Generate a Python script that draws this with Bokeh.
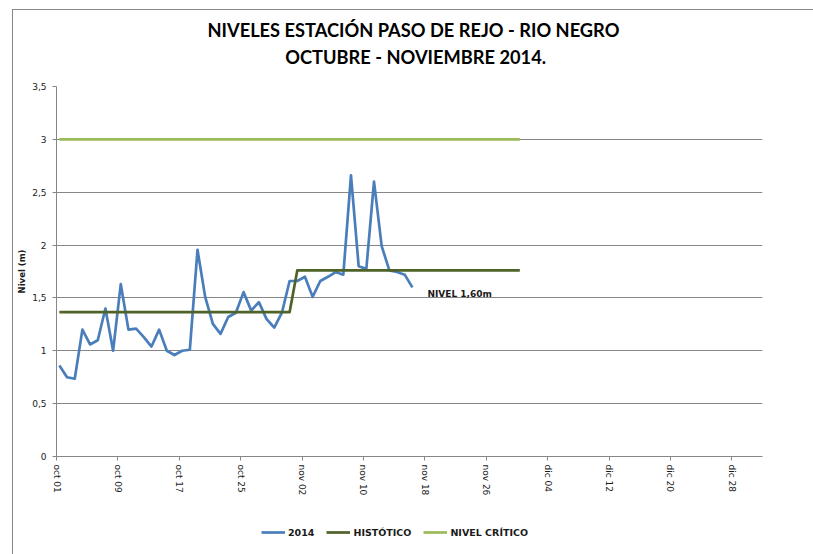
import datetime as dt
from bokeh.plotting import figure
from bokeh.layouts import column
from bokeh.models import (Range1d, FixedTicker, Label, Legend, LegendItem,
                          ColumnDataSource)
from bokeh.core.properties import value
from bokeh.embed import file_html
from bokeh.resources import INLINE

# ---------------- data ----------------
inicio = dt.datetime(2014, 10, 1, 9)  # daily readings
nivel_2014 = [0.86, 0.75, 0.735, 1.20, 1.06, 1.10, 1.40, 1.00, 1.63, 1.20,
              1.21, 1.13, 1.04, 1.20, 1.00, 0.96, 1.00, 1.01, 1.955, 1.51,
              1.255, 1.16, 1.32, 1.36, 1.555, 1.38, 1.46, 1.30, 1.22, 1.36,
              1.66, 1.66, 1.70, 1.51, 1.66, 1.70, 1.745, 1.72, 2.66, 1.80,
              1.775, 2.60, 1.99, 1.76, 1.745, 1.72, 1.60]
fechas_2014 = [inicio + dt.timedelta(days=i) for i in range(len(nivel_2014))]

fechas_historico = [dt.datetime(2014, 10, 1, 9), dt.datetime(2014, 10, 31, 9),
                    dt.datetime(2014, 11, 1, 9), dt.datetime(2014, 11, 30, 9)]
nivel_historico = [1.365, 1.365, 1.76, 1.76]

fechas_critico = [dt.datetime(2014, 10, 1, 9), dt.datetime(2014, 11, 30, 9)]
nivel_critico = [3.0, 3.0]

tick_fechas = [dt.datetime(2014, 10, 1), dt.datetime(2014, 10, 9), dt.datetime(2014, 10, 17),
               dt.datetime(2014, 10, 25), dt.datetime(2014, 11, 2), dt.datetime(2014, 11, 10),
               dt.datetime(2014, 11, 18), dt.datetime(2014, 11, 26), dt.datetime(2014, 12, 4),
               dt.datetime(2014, 12, 12), dt.datetime(2014, 12, 20), dt.datetime(2014, 12, 28)]
tick_labels = ["oct 01", "oct 09", "oct 17", "oct 25", "nov 02", "nov 10",
               "nov 18", "nov 26", "dic 04", "dic 12", "dic 20", "dic 28"]

y_ticks = [0, 0.5, 1, 1.5, 2, 2.5, 3, 3.5]
y_labels = ["0", "0,5", "1", "1,5", "2", "2,5", "3", "3,5"]

x_inicio = dt.datetime(2014, 10, 1)
x_fin = dt.datetime(2015, 1, 1)

titulo1 = "NIVELES  ESTACIÓN PASO DE REJO - RIO NEGRO"
titulo2 = "OCTUBRE - NOVIEMBRE 2014."
anotacion = "NIVEL 1,60m"
anot_fecha = dt.datetime(2014, 11, 18, 8)
anot_nivel = 1.54

serie_nombres = ["2014", "HISTÓTICO", "NIVEL CRÍTICO"]
serie_colores = ["#4A7EBB", "#4F6228", "#9BBB59"]

EPOCH = dt.datetime(1970, 1, 1)


def ms(d):
    return (d - EPOCH).total_seconds() * 1000.0


GRAY = "#868686"
TXT = "#1a1a1a"
LW = 2.7
W = 800
H_TITLE, H_MAIN, H_LEG = 66, 425, 53


def blank(h):
    f = figure(width=W, height=h, output_backend="svg", toolbar_location=None,
               x_range=Range1d(0, W), y_range=Range1d(0, h),
               x_axis_location=None, y_axis_location=None,
               min_border=0, title=None)
    f.grid.visible = False
    f.outline_line_color = None
    f.background_fill_color = "white"
    f.border_fill_color = "white"
    return f


# ---------------- title block ----------------
pt = blank(H_TITLE)
pt.text(x=[407, 407], y=[47, 20], text=[titulo1, titulo2],
        text_align="center", text_baseline="middle",
        text_font=value("Lato"), text_font_style="bold",
        text_font_size="18.25px", text_color="black")

# ---------------- main chart ----------------
p = figure(width=W, height=H_MAIN, x_axis_type="datetime", title=None,
           output_backend="svg", toolbar_location=None,
           min_border_left=43, min_border_right=51, min_border_top=10,
           min_border_bottom=45,
           x_range=Range1d(ms(x_inicio), ms(x_fin)), y_range=Range1d(0, 3.5))
p.outline_line_color = None
p.background_fill_color = "white"
p.border_fill_color = "white"

src1 = ColumnDataSource(dict(x=fechas_2014, y=nivel_2014))
src2 = ColumnDataSource(dict(x=fechas_historico, y=nivel_historico))
src3 = ColumnDataSource(dict(x=fechas_critico, y=nivel_critico))
fuentes = [src1, src2, src3]

for s, c in zip(fuentes, serie_colores):
    p.line("x", "y", source=s, line_color=c, line_width=LW, line_join="round")

p.xaxis.ticker = FixedTicker(ticks=[ms(d) for d in tick_fechas])
p.xaxis.major_label_overrides = {ms(d): l for d, l in zip(tick_fechas, tick_labels)}
p.xaxis.major_label_orientation = "vertical"
p.yaxis.ticker = FixedTicker(ticks=y_ticks)
p.yaxis.major_label_overrides = {t: l for t, l in zip(y_ticks, y_labels)}
for ax in (p.xaxis, p.yaxis):
    ax.axis_line_color = GRAY
    ax.major_tick_line_color = GRAY
    ax.minor_tick_line_color = None
    ax.major_tick_in = 0
    ax.major_tick_out = 4
    ax.major_label_text_font = "DejaVu Sans"
    ax.major_label_text_font_size = "9px"
    ax.major_label_text_color = TXT
p.xaxis.major_label_standoff = 4
p.yaxis.major_label_standoff = 6
p.yaxis.axis_label = "Nivel (m)"
p.yaxis.axis_label_text_font = "DejaVu Sans"
p.yaxis.axis_label_text_font_style = "bold"
p.yaxis.axis_label_text_font_size = "8.5px"
p.yaxis.axis_label_text_color = TXT
p.yaxis.axis_label_standoff = 2

p.xgrid.visible = False
p.ygrid.grid_line_color = GRAY
p.ygrid.grid_line_width = 1

p.add_layout(Label(x=ms(anot_fecha), y=anot_nivel, text=anotacion,
                   text_align="left", text_baseline="middle",
                   text_font="DejaVu Sans", text_font_style="bold",
                   text_font_size="9px", text_color=TXT))

# ---------------- legend block ----------------
# same series sources (they fall outside this strip's ranges, only the key shows)
pl = blank(H_LEG)
leg_items = []
for nombre, s, color in zip(serie_nombres, fuentes, serie_colores):
    rr = pl.line("x", "y", source=s, line_color=color, line_width=LW)
    leg_items.append(LegendItem(label=nombre, renderers=[rr]))
legend = Legend(items=leg_items, location=(205, 16), orientation="horizontal",
                glyph_width=24, glyph_height=12, label_standoff=3, spacing=12,
                padding=0, margin=0, border_line_color=None,
                background_fill_alpha=0,
                label_text_font="DejaVu Sans", label_text_font_style="bold",
                label_text_font_size="9.5px", label_text_color=TXT,
                label_height=12)
pl.add_layout(legend)

layout = column(pt, p, pl, spacing=0)
layout.margin = (9, 0, 0, 12)
layout.styles = {"border-top": "1px solid #868686", "border-left": "1px solid #868686"}

open("out.html", "w").write(file_html(layout, INLINE))
